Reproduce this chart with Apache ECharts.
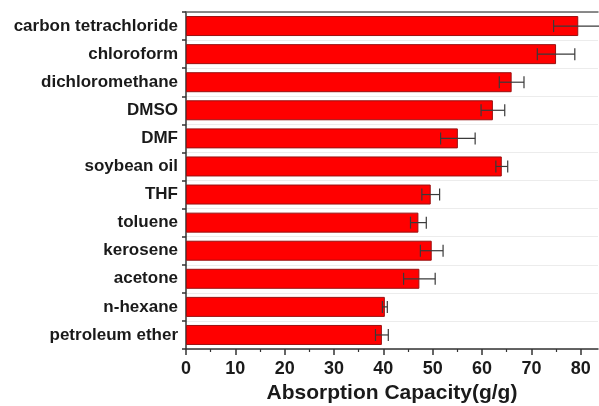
<!DOCTYPE html>
<html>
<head>
<meta charset="utf-8">
<script src="https://cdn.jsdelivr.net/npm/echarts@6/dist/echarts.min.js"></script>
<style>
  html, body { margin: 0; padding: 0; background: #ffffff; }
  #chart { width: 599px; height: 406px; }
</style>
</head>
<body>
<div id="chart"></div>
<script>
// Solvents / oils, listed top to bottom
const solvents = [
  'carbon tetrachloride', 'chloroform', 'dichloromethane', 'DMSO', 'DMF',
  'soybean oil', 'THF', 'toluene', 'kerosene', 'acetone', 'n-hexane', 'petroleum ether'
];
// Mean absorption capacity (g/g)
const capacity = [79.5, 75.0, 66.0, 62.2, 55.1, 64.0, 49.6, 47.1, 49.8, 47.3, 40.3, 39.7];
// Standard deviation (g/g)
const deviation = [5.0, 3.8, 2.5, 2.4, 3.5, 1.2, 1.8, 1.6, 2.3, 3.2, 0.5, 1.3];
// Tick labels on the value axis
const xTicks = [0, 10, 20, 30, 40, 50, 60, 70, 80];

const FONT = 'Arial, "Liberation Sans", Helvetica, sans-serif';
const chart = echarts.init(document.getElementById('chart'), null, { renderer: 'canvas' });

const errData = solvents.map((name, i) => [i, capacity[i], deviation[i]]);

function renderError(params, api) {
  const idx = api.value(0);
  const v = api.value(1);
  const e = api.value(2);
  const lo = api.coord([v - e, idx]);
  const hi = api.coord([v + e, idx]);
  const cap = 6;
  const style = { stroke: '#3a3a3a', lineWidth: 1.2, fill: null };
  return {
    type: 'group',
    children: [
      { type: 'line', shape: { x1: lo[0], y1: lo[1], x2: hi[0], y2: hi[1] }, style },
      { type: 'line', shape: { x1: lo[0], y1: lo[1] - cap, x2: lo[0], y2: lo[1] + cap }, style },
      { type: 'line', shape: { x1: hi[0], y1: hi[1] - cap, x2: hi[0], y2: hi[1] + cap }, style }
    ]
  };
}

chart.setOption({
  animation: false,
  backgroundColor: '#ffffff',
  grid: { left: 186, right: 1, top: 12, bottom: 57, containLabel: false, outerBoundsMode: 'none' },
  xAxis: [
    {
      type: 'value',
      min: 0,
      max: 83.5,
      interval: 10,
      position: 'bottom',
      name: 'Absorption Capacity(g/g)',
      nameLocation: 'middle',
      nameGap: 33,
      nameTextStyle: { fontFamily: FONT, fontWeight: 'bold', fontSize: 21, color: '#1a1a1a' },
      axisLine: { show: true, lineStyle: { color: '#333', width: 1.5 } },
      axisTick: { show: true, length: 6, lineStyle: { color: '#333', width: 1.5 }, customValues: xTicks },
      minorTick: { show: true, splitNumber: 2, length: 3, lineStyle: { color: '#333', width: 1.2 } },
      axisLabel: {
        customValues: xTicks,
        fontFamily: FONT, fontWeight: 'bold', fontSize: 18, color: '#1a1a1a', margin: 11
      },
      splitLine: { show: false }
    },
    {
      type: 'value',
      min: 0,
      max: 83.5,
      position: 'top',
      axisLine: { show: true, lineStyle: { color: '#666', width: 1.5 } },
      axisTick: { show: false },
      axisLabel: { show: false },
      splitLine: { show: false }
    }
  ],
  yAxis: {
    type: 'category',
    data: solvents,
    inverse: true,
    axisLine: { show: true, lineStyle: { color: '#333', width: 1.5 } },
    axisTick: { show: true, length: 4, lineStyle: { color: '#333', width: 1.5 } },
    axisLabel: { fontFamily: FONT, fontWeight: 'bold', fontSize: 17, color: '#1a1a1a', margin: 8 },
    splitLine: { show: true, lineStyle: { color: '#ececec', width: 1 } }
  },
  series: [
    {
      type: 'bar',
      data: capacity,
      barWidth: 20,
      itemStyle: { color: '#ff0000', borderColor: '#9a1010', borderWidth: 1 }
    },
    {
      type: 'custom',
      data: errData,
      encode: { x: 1, y: 0 },
      renderItem: renderError,
      z: 5
    }
  ]
});
</script>
</body>
</html>
